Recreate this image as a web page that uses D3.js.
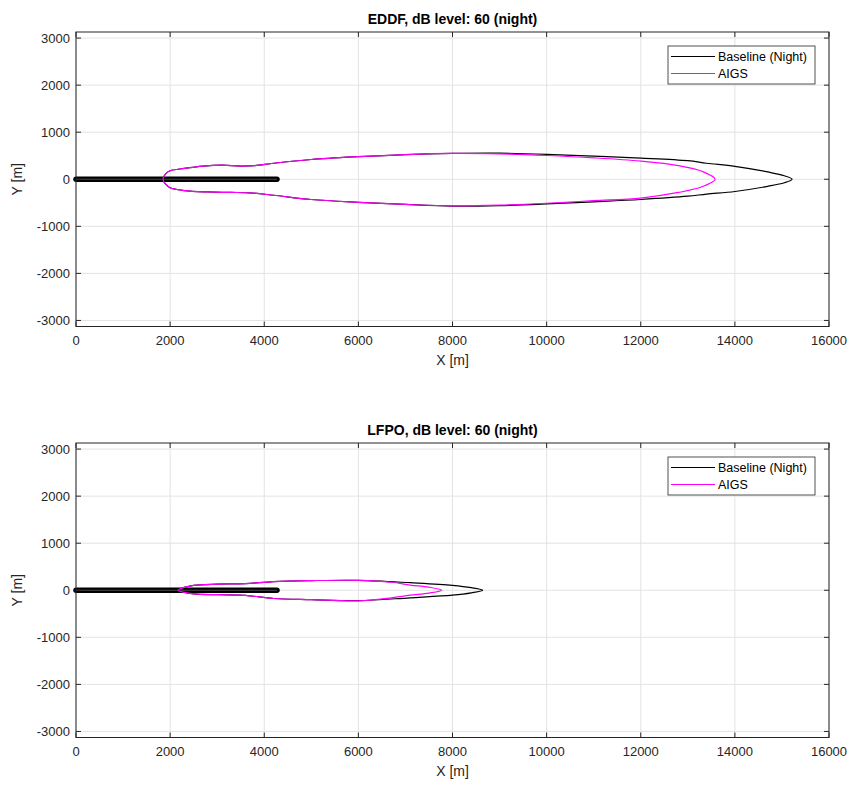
<!DOCTYPE html>
<html>
<head>
<meta charset="utf-8">
<script src="https://cdn.jsdelivr.net/npm/d3@7"></script>
<style>
  body { margin: 0; background: #fff; }
  svg { font-family: "Liberation Sans", Arial, Helvetica, sans-serif; }
</style>
</head>
<body>
<svg id="chart" width="853" height="788"></svg>
<script>
// x ticks / y ticks
const xTicks = [0, 2000, 4000, 6000, 8000, 10000, 12000, 14000, 16000]
const yTicks = [-3000, -2000, -1000, 0, 1000, 2000, 3000]
const legendNames = ['Baseline (Night)', 'AIGS']

// runway centreline
const runway = [[0, 0], [4270, 0]]

// EDDF contours (closed, [x, y] in metres)
const eddfBaseline = [
    [1850, 0], [1900, 110], [2000, 180], [2300, 230], [2700, 280], [3100, 300], [3500, 280],
    [3800, 290], [4200, 340], [5000, 420], [6000, 480], [7000, 525], [8000, 550], [9000, 555],
    [10000, 530], [11000, 490], [12000, 450], [13000, 395], [13400, 340], [14000, 275],
    [14700, 155], [15050, 75], [15215, 0],
    [15050, -75], [14700, -150], [14000, -260], [13400, -315], [13000, -360], [12000, -430],
    [11000, -480], [10000, -525], [9000, -560], [8000, -570], [7000, -535], [6000, -490],
    [5000, -430], [4200, -340], [3700, -290], [3300, -280], [2800, -270], [2300, -240],
    [2000, -180], [1900, -100]
]
const eddfAigs = [
    [1850, 0], [1900, 110], [2000, 180], [2300, 230], [2700, 280], [3100, 300], [3500, 280],
    [3800, 290], [4200, 340], [5000, 420], [6000, 480], [7000, 525], [8000, 550], [9000, 540],
    [10000, 505], [11000, 455], [12000, 385], [12800, 290], [13300, 170], [13580, 0],
    [13300, -160], [12800, -280], [12000, -400], [11000, -455], [10000, -510], [9000, -550],
    [8000, -565], [7000, -535], [6000, -490], [5000, -430], [4200, -340], [3700, -290],
    [3300, -280], [2800, -270], [2300, -240], [2000, -180], [1900, -100]
]

// LFPO contours
const lfpoBaseline = [
    [2170, 0], [2300, 60], [2500, 105], [3000, 130], [3600, 140], [4200, 185], [5000, 205],
    [6000, 210], [7100, 160], [8000, 105], [8400, 55], [8640, 0],
    [8400, -55], [8000, -105], [7100, -160], [6000, -220], [5000, -200], [4200, -175],
    [3600, -110], [3000, -95], [2500, -75], [2300, -45]
]
const lfpoAigs = [
    [2170, 0], [2300, 60], [2500, 105], [3000, 130], [3600, 140], [4200, 185], [5000, 205],
    [6000, 210], [6700, 170], [7100, 110], [7500, 65], [7770, 0],
    [7500, -60], [7100, -105], [6700, -160], [6000, -225], [5000, -200], [4200, -175],
    [3600, -110], [3000, -95], [2500, -75], [2300, -45]
]

const panels = [
    {title: 'EDDF, dB level: 60 (night)', top: 32, base: eddfBaseline, aigs: eddfAigs},
    {title: 'LFPO, dB level: 60 (night)', top: 443, base: lfpoBaseline, aigs: lfpoAigs}
]

const svg = d3.select('#chart')
const left = 76, right = 829, plotH = 294.5
const axisColor = '#262626'

panels.forEach(p => {
    let x = d3.scaleLinear().domain([0, 16000]).range([left, right])
    // equal aspect: same metres per pixel as x
    let mpp = 16000 / (right - left)
    let half = plotH / 2 * mpp
    let y = d3.scaleLinear().domain([-half, half]).range([p.top + plotH, p.top])

    let g = svg.append('g')

    // grid
    g.selectAll('.gx').data(xTicks).enter().append('line')
        .attr('x1', d => x(d)).attr('x2', d => x(d))
        .attr('y1', p.top).attr('y2', p.top + plotH)
        .attr('stroke', '#e3e3e3').attr('stroke-width', 1)
    g.selectAll('.gy').data(yTicks).enter().append('line')
        .attr('x1', left).attr('x2', right)
        .attr('y1', d => y(d)).attr('y2', d => y(d))
        .attr('stroke', '#e3e3e3').attr('stroke-width', 1)

    let line = d3.line().x(d => x(d[0])).y(d => y(d[1]))
    let closed = d3.line().x(d => x(d[0])).y(d => y(d[1])).curve(d3.curveCatmullRomClosed.alpha(0.5))

    // runway
    g.append('path').attr('d', line(runway))
        .attr('fill', 'none').attr('stroke', '#000').attr('stroke-width', 5.5)
        .attr('stroke-linecap', 'round')
    g.append('path').attr('d', line(runway))
        .attr('fill', 'none').attr('stroke', '#4a4a4a').attr('stroke-width', 1.2)

    g.append('path').attr('d', closed(p.base))
        .attr('fill', 'none').attr('stroke', '#000').attr('stroke-width', 1.2)
    g.append('path').attr('d', closed(p.aigs))
        .attr('fill', 'none').attr('stroke', '#ff00ff').attr('stroke-width', 1.2)

    // box
    g.append('rect').attr('x', left).attr('y', p.top)
        .attr('width', right - left).attr('height', plotH)
        .attr('fill', 'none').attr('stroke', axisColor).attr('stroke-width', 1)

    // ticks (inward, all four sides)
    let tl = 5
    xTicks.forEach(t => {
        g.append('line').attr('x1', x(t)).attr('x2', x(t))
            .attr('y1', p.top + plotH).attr('y2', p.top + plotH - tl).attr('stroke', axisColor)
        g.append('line').attr('x1', x(t)).attr('x2', x(t))
            .attr('y1', p.top).attr('y2', p.top + tl).attr('stroke', axisColor)
    })
    yTicks.forEach(t => {
        g.append('line').attr('x1', left).attr('x2', left + tl)
            .attr('y1', y(t)).attr('y2', y(t)).attr('stroke', axisColor)
        g.append('line').attr('x1', right).attr('x2', right - tl)
            .attr('y1', y(t)).attr('y2', y(t)).attr('stroke', axisColor)
    })

    // tick labels
    g.selectAll('.xl').data(xTicks).enter().append('text')
        .attr('x', d => x(d)).attr('y', p.top + plotH + 18)
        .attr('text-anchor', 'middle').attr('font-size', 13).attr('fill', axisColor)
        .text(d => d)
    g.selectAll('.yl').data(yTicks).enter().append('text')
        .attr('x', left - 6).attr('y', d => y(d) + 4.5)
        .attr('text-anchor', 'end').attr('font-size', 13).attr('fill', axisColor)
        .text(d => d)

    // axis labels
    g.append('text').attr('x', (left + right) / 2).attr('y', p.top + plotH + 38)
        .attr('text-anchor', 'middle').attr('font-size', 14).attr('fill', axisColor)
        .text('X [m]')
    g.append('text')
        .attr('transform', `translate(22,${p.top + plotH / 2}) rotate(-90)`)
        .attr('text-anchor', 'middle').attr('font-size', 14).attr('fill', axisColor)
        .text('Y [m]')

    // title
    g.append('text').attr('x', (left + right) / 2).attr('y', p.top - 8)
        .attr('text-anchor', 'middle').attr('font-size', 14).attr('font-weight', 'bold')
        .attr('fill', '#000')
        .text(p.title)

    // legend
    let lg = g.append('g').attr('transform', `translate(668,${p.top + 14})`)
    lg.append('rect').attr('width', 147).attr('height', 38)
        .attr('fill', '#fff').attr('stroke', axisColor).attr('stroke-width', 0.8)
    let colors = ['#000', '#ff00ff']
    legendNames.forEach((n, i) => {
        let ly = 10.5 + i * 17
        lg.append('line').attr('x1', 3).attr('x2', 47).attr('y1', ly).attr('y2', ly)
            .attr('stroke', colors[i]).attr('stroke-width', 1)
        lg.append('text').attr('x', 50).attr('y', ly + 4.5)
            .attr('font-size', 12.5).attr('fill', '#000').text(n)
    })
})
</script>
</body>
</html>
